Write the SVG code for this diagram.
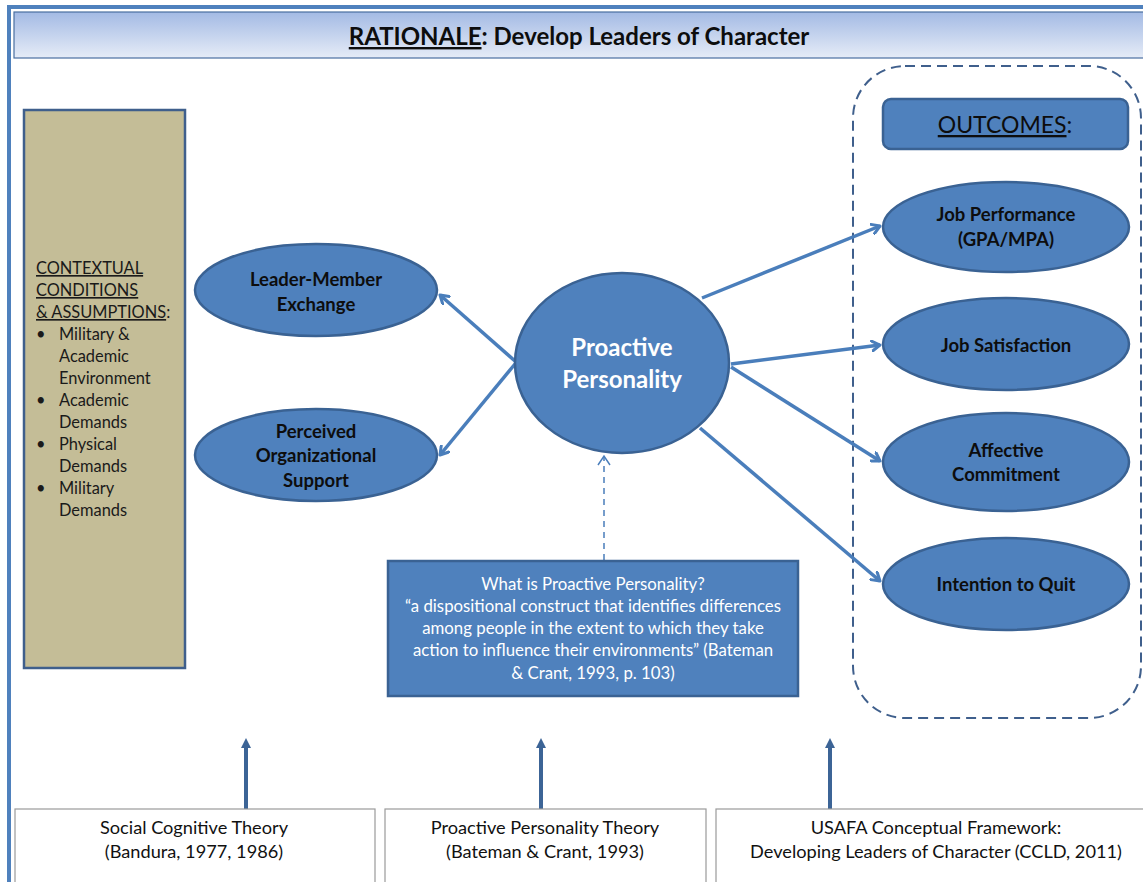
<svg xmlns="http://www.w3.org/2000/svg" width="1143" height="882" viewBox="0 0 1143 882">
  <defs>
    <linearGradient id="hdr" x1="0" y1="0" x2="0" y2="1">
      <stop offset="0" stop-color="#a3bae4"/>
      <stop offset="1" stop-color="#e6ecf7"/>
    </linearGradient>
    <marker id="open" markerWidth="12" markerHeight="12" refX="9" refY="6" orient="auto" markerUnits="userSpaceOnUse">
      <path d="M1,1 L9,6 L1,11" fill="none" stroke="#4a7ebb" stroke-width="3" stroke-linecap="round" stroke-linejoin="round"/>
    </marker>
    <marker id="solid" markerWidth="12" markerHeight="12" refX="6" refY="6" orient="auto" markerUnits="userSpaceOnUse">
      <path d="M0,1 L10,6 L0,11 Z" fill="#3c6496"/>
    </marker>
    <style>
      .node { fill: #4f81bd; stroke: #3a6293; stroke-width: 2.5; }
      .lbl { font-family: Lato, "Open Sans", "Liberation Sans", sans-serif; font-weight: bold; font-size: 18.5px; fill: #0d0d0d; text-anchor: middle; }
      .ctx { font-family: Lato, "Open Sans", "Liberation Sans", sans-serif; font-size: 16.4px; fill: #1a1a1a; }
      .conn { stroke: #4a7ebb; stroke-width: 3.5; fill: none; }
      .theory { fill: #ffffff; stroke: #9a9a9a; stroke-width: 1.2; }
      .ttext { font-family: Lato, "Open Sans", "Liberation Sans", sans-serif; font-size: 18.2px; fill: #111; text-anchor: middle; }
      .def { font-family: Lato, "Open Sans", "Liberation Sans", sans-serif; font-size: 16.8px; fill: #ffffff; text-anchor: middle; }
      .big { font-family: Lato, "Open Sans", "Liberation Sans", sans-serif; font-weight: bold; font-size: 24px; fill: #ffffff; text-anchor: middle; }
    </style>
  </defs>

  <rect width="1143" height="882" fill="#ffffff"/>

  <!-- frame and header band -->
  <g id="frame">
    <rect x="9" y="7" width="1150" height="890" fill="none" stroke="#4f81bd" stroke-width="4"/>
    <rect x="14" y="12" width="1140" height="46" fill="url(#hdr)" stroke="#4a6fa0" stroke-width="1.2"/>
    <text x="579" y="45" font-family="Lato, 'Open Sans', 'Liberation Sans', sans-serif" font-weight="bold" font-size="24" fill="#0d0d0d" text-anchor="middle"><tspan text-decoration="underline">RATIONALE</tspan>: Develop Leaders of Character</text>
  </g>

  <!-- contextual conditions -->
  <g id="context">
    <rect x="24" y="110" width="161" height="558" fill="#c4bd97" stroke="#3f5f8c" stroke-width="2.5"/>
    <text class="ctx" x="36" y="274" text-decoration="underline">CONTEXTUAL</text>
    <text class="ctx" x="36" y="296" text-decoration="underline">CONDITIONS</text>
    <text class="ctx" x="36" y="318"><tspan text-decoration="underline">&amp; ASSUMPTIONS</tspan>:</text>
    <text class="ctx" x="36" y="340">•</text><text class="ctx" x="59" y="340">Military &amp;</text>
    <text class="ctx" x="59" y="362">Academic</text>
    <text class="ctx" x="59" y="384">Environment</text>
    <text class="ctx" x="36" y="406">•</text><text class="ctx" x="59" y="406">Academic</text>
    <text class="ctx" x="59" y="428">Demands</text>
    <text class="ctx" x="36" y="450">•</text><text class="ctx" x="59" y="450">Physical</text>
    <text class="ctx" x="59" y="472">Demands</text>
    <text class="ctx" x="36" y="494">•</text><text class="ctx" x="59" y="494">Military</text>
    <text class="ctx" x="59" y="516">Demands</text>
  </g>

  <!-- outcomes container -->
  <g id="outcomes-area">
    <rect x="853" y="66" width="288" height="652" rx="52" ry="52" fill="none" stroke="#3f5f8c" stroke-width="2" stroke-dasharray="10,6"/>
    <rect x="883" y="99" width="245" height="50" rx="8" ry="8" class="node"/>
    <text x="1005" y="133" font-family="Lato, 'Open Sans', 'Liberation Sans', sans-serif" font-size="23" fill="#0d0d0d" text-anchor="middle"><tspan text-decoration="underline">OUTCOMES</tspan>:</text>
  </g>

  <!-- connectors -->
  <g id="connectors">
    <line class="conn" x1="515" y1="361" x2="440" y2="295" marker-end="url(#open)"/>
    <line class="conn" x1="515" y1="364" x2="440" y2="455" marker-end="url(#open)"/>
    <line class="conn" x1="702" y1="298" x2="880" y2="226" marker-end="url(#open)"/>
    <line class="conn" x1="731" y1="364" x2="880" y2="345" marker-end="url(#open)"/>
    <line class="conn" x1="731" y1="367" x2="880" y2="461" marker-end="url(#open)"/>
    <line class="conn" x1="700" y1="428" x2="880" y2="581" marker-end="url(#open)"/>
    <line x1="604" y1="560" x2="604" y2="457" stroke="#4a7ebb" stroke-width="1.5" stroke-dasharray="6,5"/>
    <path d="M598,465 L604,456 L610,465" fill="none" stroke="#4a7ebb" stroke-width="1.5"/>
    <line x1="246" y1="809" x2="246" y2="742" stroke="#3c6496" stroke-width="4" marker-end="url(#solid)"/>
    <line x1="541" y1="809" x2="541" y2="742" stroke="#3c6496" stroke-width="4" marker-end="url(#solid)"/>
    <line x1="830" y1="809" x2="830" y2="742" stroke="#3c6496" stroke-width="4" marker-end="url(#solid)"/>
  </g>

  <g id="lmx">
    <ellipse class="node" cx="316" cy="290" rx="121" ry="46"/>
    <text class="lbl" x="316" y="286">Leader-Member</text>
    <text class="lbl" x="316" y="311">Exchange</text>
  </g>

  <g id="pos">
    <ellipse class="node" cx="316" cy="455" rx="121" ry="46"/>
    <text class="lbl" x="316" y="438">Perceived</text>
    <text class="lbl" x="316" y="462">Organizational</text>
    <text class="lbl" x="316" y="487">Support</text>
  </g>

  <g id="proactive">
    <ellipse class="node" cx="622" cy="363" rx="107" ry="90"/>
    <text class="big" x="622" y="356">Proactive</text>
    <text class="big" x="622" y="388">Personality</text>
  </g>

  <g id="job-performance">
    <ellipse class="node" cx="1006" cy="227" rx="123" ry="45"/>
    <text class="lbl" x="1006" y="221">Job Performance</text>
    <text class="lbl" x="1006" y="246">(GPA/MPA)</text>
  </g>

  <g id="job-satisfaction">
    <ellipse class="node" cx="1006" cy="344" rx="123" ry="46"/>
    <text class="lbl" x="1006" y="352">Job Satisfaction</text>
  </g>

  <g id="affective-commitment">
    <ellipse class="node" cx="1006" cy="462" rx="123" ry="49"/>
    <text class="lbl" x="1006" y="457">Affective</text>
    <text class="lbl" x="1006" y="481">Commitment</text>
  </g>

  <g id="intention-to-quit">
    <ellipse class="node" cx="1006" cy="584" rx="123" ry="46"/>
    <text class="lbl" x="1006" y="591">Intention to Quit</text>
  </g>

  <g id="definition">
    <rect x="388" y="561" width="410" height="135" fill="#4f81bd" stroke="#3a6293" stroke-width="2.5"/>
    <text class="def" x="593" y="590">What is Proactive Personality?</text>
    <text class="def" x="593" y="612">“a dispositional construct that identifies differences</text>
    <text class="def" x="593" y="634">among people in the extent to which they take</text>
    <text class="def" x="593" y="656">action to influence their environments” (Bateman</text>
    <text class="def" x="593" y="679">&amp; Crant, 1993, p. 103)</text>
  </g>

  <g id="social-cognitive-theory">
    <rect class="theory" x="15" y="809" width="360" height="90"/>
    <text class="ttext" x="194" y="834">Social Cognitive Theory</text>
    <text class="ttext" x="194" y="858">(Bandura, 1977, 1986)</text>
  </g>

  <g id="proactive-personality-theory">
    <rect class="theory" x="385" y="809" width="321" height="90"/>
    <text class="ttext" x="545" y="834">Proactive Personality Theory</text>
    <text class="ttext" x="545" y="858">(Bateman &amp; Crant, 1993)</text>
  </g>

  <g id="usafa-framework">
    <rect class="theory" x="716" y="809" width="440" height="90"/>
    <text class="ttext" x="936" y="834">USAFA Conceptual Framework:</text>
    <text class="ttext" x="936" y="858">Developing Leaders of Character (CCLD, 2011)</text>
  </g>
</svg>
